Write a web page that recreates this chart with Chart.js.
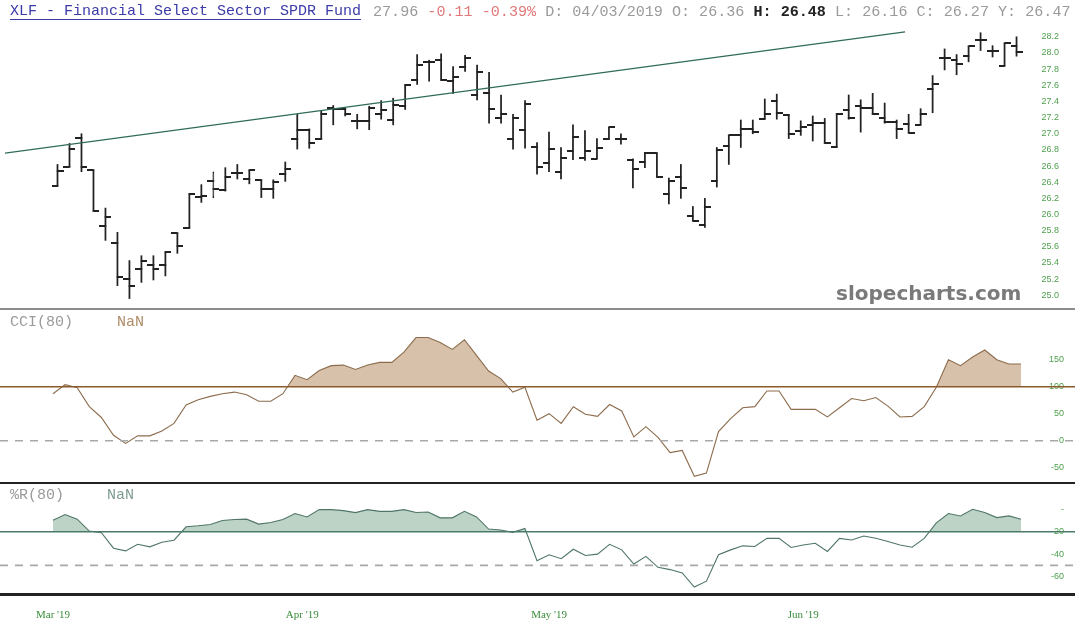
<!DOCTYPE html>
<html>
<head>
<meta charset="utf-8">
<script src="https://cdn.jsdelivr.net/npm/chart.js@4.4.1/dist/chart.umd.min.js"></script>
<style>
  html, body { margin: 0; padding: 0; background: #fff; }
  #wrap { position: relative; width: 1075px; height: 635px; overflow: hidden; }
  .pane { position: absolute; left: 0; }
  .pane canvas { display: block; }
  .rule { position: absolute; left: 0; width: 1075px; }
  .txt { position: absolute; white-space: pre; font-family: "Liberation Mono", monospace; }
  #title { left: 10px; top: 3px; font-size: 15px; color: #3b3ba8; text-decoration: underline; text-underline-offset: 4px; }
  #info { left: 373px; top: 3px; font-size: 15.1px; }
  #info .g { color: #9a9a9a; }
  #info .r { color: #e07878; }
  #info b { color: #222; }
  #mark { position: absolute; left: 836px; top: 281px; font: bold 20px "DejaVu Sans", sans-serif; color: #7a7a7a; }
</style>
</head>
<body>
<div id="wrap">
  <div class="pane" style="top:0;height:308px"><canvas id="priceChart" width="1075" height="308"></canvas></div>
  <div class="pane" style="top:310px;height:172px"><canvas id="cciChart" width="1075" height="172"></canvas></div>
  <div class="pane" style="top:484px;height:151px"><canvas id="wrChart" width="1075" height="151"></canvas></div>

  <div class="rule" style="top:308px;height:2px;background:#8c8c8c"></div>
  <div class="rule" style="top:482px;height:2px;background:#222"></div>
  <div class="rule" style="top:593px;height:3px;background:#222"></div>

  <div id="title" class="txt">XLF - Financial Select Sector SPDR Fund</div>
  <div id="info" class="txt"><span class="g">27.96</span> <span class="r">-0.11 -0.39%</span> <span class="g">D: 04/03/2019 O: 26.36</span> <b>H: 26.48</b> <span class="g">L: 26.16 C: 26.27 Y: 26.47</span></div>
  <div class="txt" style="left:10px;top:314px;font-size:15px;color:#9a9a9a">CCI(80)</div>
  <div class="txt" style="left:117px;top:314px;font-size:15px;color:#b08c68">NaN</div>
  <div class="txt" style="left:10px;top:487px;font-size:15px;color:#9a9a9a">%R(80)</div>
  <div class="txt" style="left:107px;top:487px;font-size:15px;color:#7f9c90">NaN</div>
  <div id="mark">slopecharts.com</div>
</div>

<script>
// daily bars, Mar - Jun 2019
const opens  = [26.30,26.54,26.90,26.50,25.81,25.60,25.15,25.27,25.32,25.32,25.72,25.78,26.17,26.36,26.25,26.47,26.39,26.38,26.27,26.45,
                26.89,27.00,26.89,27.27,27.26,27.11,27.11,27.19,27.12,27.29,27.62,27.84,27.86,27.60,27.77,27.43,27.45,27.15,26.89,27.00,
                26.78,26.59,26.48,26.74,26.65,26.64,26.88,26.89,26.63,26.60,26.71,26.21,26.42,25.93,25.82,26.36,26.80,26.93,27.01,27.13,
                27.35,27.18,26.99,27.06,27.08,26.78,27.24,27.29,27.27,27.15,27.09,27.07,27.06,27.50,27.89,27.86,27.91,28.11,27.97,27.79,28.03];
const highs  = [26.57,26.83,26.95,26.50,26.03,25.73,25.38,25.44,25.44,25.49,25.72,26.21,26.32,26.48,26.53,26.57,26.50,26.38,26.38,26.60,
                27.19,27.01,27.23,27.30,27.27,27.19,27.29,27.36,27.39,27.56,27.93,27.86,27.94,27.78,27.92,27.80,27.71,27.43,27.19,27.36,
                26.84,26.97,26.78,27.06,26.99,26.89,27.03,26.95,26.64,26.72,26.71,26.40,26.57,26.05,26.15,26.78,26.93,27.12,27.12,27.38,
                27.44,27.19,27.11,27.17,27.14,27.20,27.43,27.37,27.45,27.33,27.12,27.19,27.26,27.67,28.00,27.93,28.03,28.20,28.04,28.07,28.15];
const lows   = [26.30,26.54,26.48,25.99,25.63,25.07,24.91,25.11,25.14,25.19,25.47,25.78,26.10,26.16,26.24,26.39,26.33,26.16,26.15,26.36,
                26.76,26.77,26.88,27.06,27.17,27.01,27.00,27.13,27.06,27.25,27.56,27.60,27.61,27.45,27.72,27.37,27.08,27.08,26.76,26.77,
                26.45,26.48,26.39,26.63,26.62,26.64,26.88,26.82,26.28,26.53,26.41,26.08,26.15,25.87,25.79,26.29,26.57,26.78,26.95,27.13,
                27.13,26.89,26.93,26.86,26.83,26.78,27.13,26.97,27.19,27.08,26.89,26.96,27.06,27.21,27.74,27.68,27.84,27.98,27.90,27.79,27.91];
const closes = [26.49,26.76,26.54,25.99,25.92,25.18,25.06,25.38,25.27,25.49,25.56,26.21,26.18,26.27,26.42,26.47,26.50,26.27,26.35,26.51,
                27.00,26.83,27.20,27.26,27.20,27.11,27.27,27.24,27.30,27.55,27.80,27.84,27.61,27.65,27.89,27.71,27.26,27.20,27.14,27.32,
                26.54,26.76,26.65,26.91,26.74,26.77,27.03,26.89,26.51,26.71,26.41,26.36,26.28,25.87,26.04,26.75,26.93,27.01,26.97,27.20,
                27.21,26.95,27.03,27.08,26.83,27.19,27.14,27.27,27.20,27.09,27.01,26.96,27.19,27.57,27.89,27.81,28.03,28.11,27.97,28.07,27.96];

// CCI(80) and Williams %R(80)
const cciValues = [87,104,98,63,43,10,-5,9,9,18,32,66,76,82,87,90,85,73,73,87,
                   121,113,130,139,140,132,140,145,145,164,191,191,182,169,187,158,129,115,90,99,
                   38,50,32,63,49,45,67,55,7,26,6,-22,-18,-66,-60,17,41,61,63,92,
                   92,58,58,58,44,61,78,74,80,64,44,45,63,99,150,139,155,168,150,142,142];
const wrValues  = [-9.7,-4.7,-8.8,-19.4,-20.9,-34.7,-37.1,-31.2,-33.5,-29.4,-27.6,-15.6,-14.7,-13.5,-10,-9.1,-8.8,-13.2,-11.8,-9.1,
                   -3.8,-6.8,-0.3,-0.3,-1.2,-2.9,-0.3,-1.8,-1.8,-0.3,-2.9,-2.4,-7.6,-7.6,-1.8,-6.8,-17.6,-18.5,-20.6,-17.1,
                   -45.9,-40.6,-44.1,-35.6,-41.2,-40,-31.2,-36.2,-48.8,-42,-51.8,-53.8,-56.8,-69.4,-64.1,-40.6,-36.2,-32.6,-33.2,-25.9,
                   -25.9,-34.1,-31.8,-30.3,-37.6,-25.9,-27.4,-23.8,-25.9,-28.8,-31.8,-33.8,-25.9,-12.1,-3.8,-5.9,0,-2.9,-7.4,-5.9,-8.8];

// trend line anchors (bar index, price)
const trendIdx = [-4.38, 70.7];
const trendVal = [26.71, 28.21];

// axis labels
const monthIdx    = [0, 20.6, 41, 62];
const monthLabels = ["Mar '19", "Apr '19", "May '19", "Jun '19"];
const priceTicks  = [25.0,25.2,25.4,25.6,25.8,26.0,26.2,26.4,26.6,26.8,27.0,27.2,27.4,27.6,27.8,28.0,28.2];
const cciTicks    = [-50, 0, 50, 100, 150];
const cciLevels   = [100, 0];
const wrTicks     = [-60, -40, -20, 0];
const wrLevels    = [-20, -50];

const X_MIN = -4.38, X_MAX = 84.46;
const GREEN = '#4d9f4d';

function tickImage(side) {
  const c = document.createElement('canvas');
  c.width = 12; c.height = 2;
  const g = c.getContext('2d');
  g.fillStyle = '#222';
  if (side === 'left') g.fillRect(0, 0, 6.5, 2); else g.fillRect(5.5, 0, 6.5, 2);
  return c;
}

function xAxis(show) {
  return {
    type: 'linear', min: X_MIN, max: X_MAX, offset: false, display: show,
    grid: { display: false }, border: { display: false },
    afterBuildTicks: s => { s.ticks = monthIdx.map(v => ({ value: v })); },
    afterFit: s => { if (show) s.height = 42; },
    ticks: {
      autoSkip: false, maxRotation: 0, padding: 8, color: '#3a8e3a',
      font: { family: 'Liberation Serif', size: 11 },
      callback: v => monthLabels[monthIdx.indexOf(v)]
    }
  };
}

function yAxis(min, max, vals, fmt, offset) {
  return {
    position: 'right', min: min, max: max,
    grid: { display: false, drawTicks: false }, border: { display: false },
    afterBuildTicks: s => { s.ticks = vals.map(v => ({ value: v })); },
    afterFit: s => { s.width = 0; },
    ticks: {
      mirror: true, padding: -11, labelOffset: offset || 0, color: GREEN,
      font: { family: 'Liberation Sans', size: 9 },
      callback: fmt
    }
  };
}

function levelSet(v, color, dash, width) {
  return {
    type: 'line', data: [{ x: X_MIN, y: v }, { x: X_MAX, y: v }],
    borderColor: color, borderWidth: width, borderDash: dash, pointRadius: 0, fill: false, order: 0
  };
}

const base = {
  responsive: false, animation: false, events: [],
  layout: { padding: 0 },
  plugins: { legend: { display: false }, tooltip: { enabled: false } }
};

// Price panel: high-low bars with open/close ticks
new Chart(document.getElementById('priceChart'), {
  type: 'bar',
  data: {
    datasets: [{
      label: 'Range',
      data: highs.map((h, i) => ({ x: i, y: [lows[i], h] })),
      backgroundColor: '#222',
      borderColor: '#111',
      borderWidth: ctx => ctx.dataIndex === 13 ? 1 : 0,
      borderSkipped: false,
      barThickness: 1.1,
      order: 2
    }, {
      type: 'scatter', label: 'Open',
      data: opens.map((o, i) => ({ x: i, y: o })),
      pointStyle: tickImage('left'), pointRadius: 3, order: 1
    }, {
      type: 'scatter', label: 'Close',
      data: closes.map((c, i) => ({ x: i, y: c })),
      pointStyle: tickImage('right'), pointRadius: 3, order: 1
    }, {
      type: 'line', label: 'Trend',
      data: trendIdx.map((t, i) => ({ x: t, y: trendVal[i] })),
      borderColor: '#2f6b58', borderWidth: 1.2, pointRadius: 0, order: 0
    }]
  },
  options: Object.assign({}, base, {
    scales: {
      x: xAxis(false),
      y: yAxis(24.855, 28.5435, priceTicks, v => v.toFixed(1), 4)
    }
  })
});

// CCI panel
new Chart(document.getElementById('cciChart'), {
  type: 'line',
  data: {
    datasets: [{
      label: 'CCI(80)',
      data: cciValues.map((v, i) => ({ x: i, y: v })),
      borderColor: '#8c6c4c', borderWidth: 1.1, pointRadius: 0,
      fill: { target: { value: cciLevels[0] }, above: '#d8c1ab', below: 'rgba(0,0,0,0)' },
      order: 1
    },
      levelSet(cciLevels[0], '#8a5a2c', [], 1.4),
      levelSet(cciLevels[1], '#a8a8a8', [8, 7], 1.6)
    ]
  },
  options: Object.assign({}, base, {
    scales: {
      x: xAxis(false),
      y: yAxis(-76.5, 242, cciTicks, v => String(v))
    }
  })
});

// Williams %R panel
new Chart(document.getElementById('wrChart'), {
  type: 'line',
  data: {
    datasets: [{
      label: '%R(80)',
      data: wrValues.map((v, i) => ({ x: i, y: v })),
      borderColor: '#4f7668', borderWidth: 1.1, pointRadius: 0,
      fill: { target: { value: wrLevels[0] }, above: '#bdd3c6', below: 'rgba(0,0,0,0)' },
      order: 1
    },
      levelSet(wrLevels[0], '#4b7a6a', [], 1.4),
      levelSet(wrLevels[1], '#a8a8a8', [8, 7], 1.6)
    ]
  },
  options: Object.assign({}, base, {
    scales: {
      x: xAxis(true),
      y: yAxis(-74.7, 22.6, wrTicks, v => v === 0 ? '-' : String(v))
    }
  })
});
</script>
</body>
</html>
